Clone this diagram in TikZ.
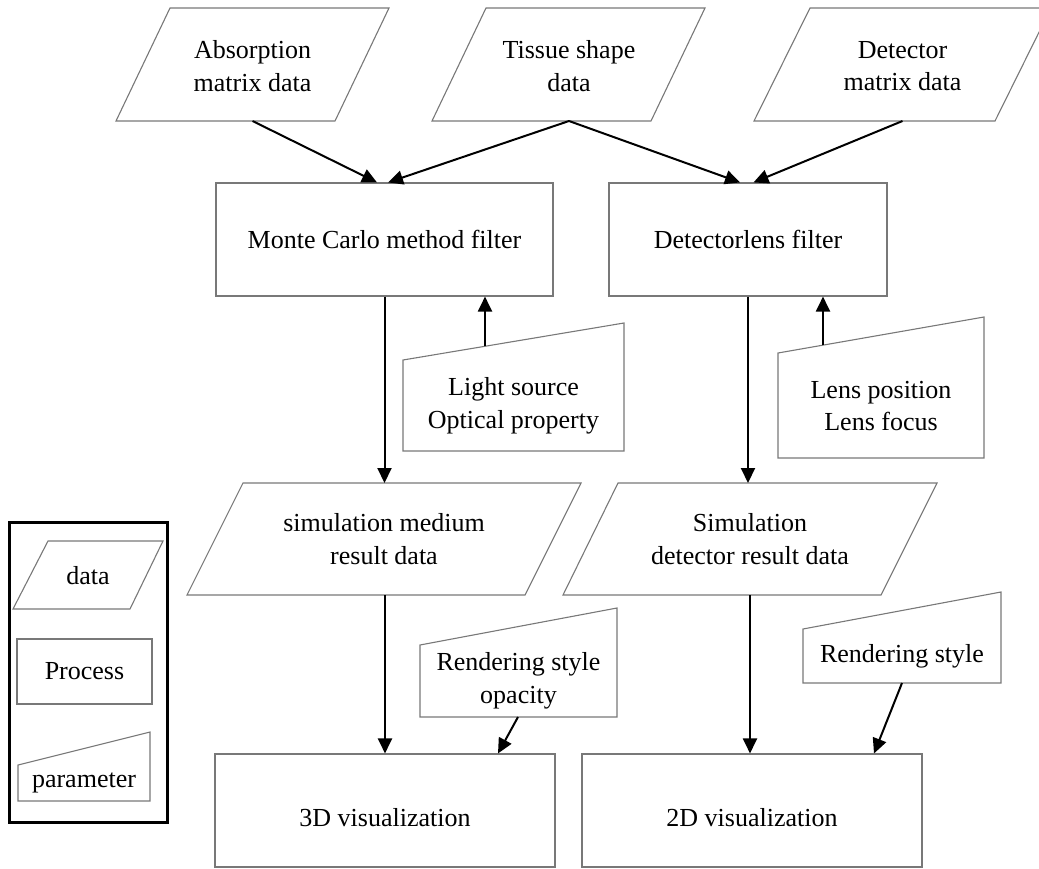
\documentclass[tikz,border=0pt]{standalone}
\usepackage{fontspec}
\setmainfont{Liberation Serif}
\usetikzlibrary{arrows.meta}
\definecolor{edgegray}{RGB}{120,120,120}
\tikzset{
  outline/.style={draw=edgegray, line width=1.1pt, line join=miter},
  procbox/.style={draw=edgegray, line width=1.1pt, inner sep=0pt},
  txt/.style={inner sep=0pt, align=center, font=\fontsize{26}{32.5}\selectfont},
  conn/.style={draw=black, line width=2pt, -{Triangle[length=15pt,width=14pt]}},
  legendframe/.style={draw=black, line width=3pt}
}
\begin{document}
\begin{tikzpicture}[x=1pt,y=-1pt]
\useasboundingbox (0,0) rectangle (1039,868);
\clip (0,0) rectangle (1039,868);

% ---------- data (parallelograms) ----------
\draw[outline] (116,121) -- (335,121) -- (389,8) -- (170,8) -- cycle;
\node[txt] (abs) at (252.5,66) {Absorption\\matrix data};
\coordinate (abs-out) at (252.5,121);

\draw[outline] (432,121) -- (651,121) -- (705,8) -- (486,8) -- cycle;
\node[txt] (tis) at (569,66) {Tissue shape\\data};
\coordinate (tis-out) at (569,121);

\draw[outline] (754,121) -- (995,121) -- (1051,8) -- (810,8) -- cycle;
\node[txt] (det) at (902.5,66) {Detector\\matrix data};
\coordinate (det-out) at (902.5,121);

% ---------- processes ----------
\node[procbox, minimum width=337pt, minimum height=113pt, txt] (mc) at (384.5,239.5) {Monte Carlo method filter};
\node[procbox, minimum width=278pt, minimum height=113pt, txt] (dl) at (748,239.5) {Detectorlens filter};

% ---------- parameters ----------
\draw[outline] (403,360) -- (624,323) -- (624,451) -- (403,451) -- cycle;
\node[txt] (light) at (513.5,406) {Light source\\Optical property};
\coordinate (light-out) at (485,346.3);

\draw[outline] (778,353) -- (984,317) -- (984,458) -- (778,458) -- cycle;
\node[txt] (lens) at (881,406) {Lens position\\Lens focus};
\coordinate (lens-out) at (823,345.1);

% ---------- simulation results ----------
\draw[outline] (187,595) -- (525,595) -- (581,483) -- (243,483) -- cycle;
\node[txt] (simm) at (384,539) {simulation medium\\result data};
\coordinate (simm-in) at (384.5,483);
\coordinate (simm-out) at (385,595);

\draw[outline] (563,595) -- (881,595) -- (937,483) -- (618,483) -- cycle;
\node[txt] (simd) at (750,539) {Simulation\\detector result data};
\coordinate (simd-in) at (748,483);
\coordinate (simd-out) at (750,595);

% ---------- rendering parameters ----------
\draw[outline] (420,645) -- (617,608) -- (617,717) -- (420,717) -- cycle;
\node[txt] (rso) at (518.5,681) {Rendering style\\opacity};
\coordinate (rso-out) at (518,717);

\draw[outline] (803,629) -- (1001,592) -- (1001,683) -- (803,683) -- cycle;
\node[txt] (rs) at (902,656) {Rendering style};
\coordinate (rs-out) at (902,683);

% ---------- visualizations ----------
\node[procbox, minimum width=340pt, minimum height=113pt] (v3d) at (385,810.5) {};
\node[txt] (v3d-t) at (385,818) {3D visualization};
\node[procbox, minimum width=340pt, minimum height=113pt] (v2d) at (752,810.5) {};
\node[txt] (v2d-t) at (752,818) {2D visualization};

% ---------- connectors ----------
\draw[conn] (abs-out) -- ([xshift=-7.5pt]mc.north);
\draw[conn] (tis-out) -- ([xshift=3.5pt]mc.north);
\draw[conn] (tis-out) -- ([xshift=-8pt]dl.north);
\draw[conn] (det-out) -- ([xshift=5.5pt]dl.north);
\draw[conn] (mc.south) -- (simm-in);
\draw[conn] (dl.south) -- (simd-in);
\draw[conn] (light-out) -- (light-out |- mc.south);
\draw[conn] (lens-out) -- (lens-out |- dl.south);
\draw[conn] (simm-out) -- (v3d.north);
\draw[conn] (simd-out) -- (simd-out |- v2d.north);
\draw[conn] (rso-out) -- ([xshift=113pt]v3d.north);
\draw[conn] (rs-out) -- ([xshift=122pt]v2d.north);

% ---------- legend ----------
\node[legendframe, minimum width=158pt, minimum height=300pt, inner sep=0pt] (legend) at (88,672) {};
\draw[outline] (13,609) -- (130,609) -- (163,541) -- (48,541) -- cycle;
\node[txt] (lg-data) at (88,576) {data};
\node[procbox, minimum width=135pt, minimum height=65pt, txt] (lg-proc) at (84.5,671.5) {Process};
\draw[outline] (18,765) -- (150,732) -- (150,801) -- (18,801) -- cycle;
\node[txt] (lg-param) at (84,783) {parameter};
\end{tikzpicture}
\end{document}
